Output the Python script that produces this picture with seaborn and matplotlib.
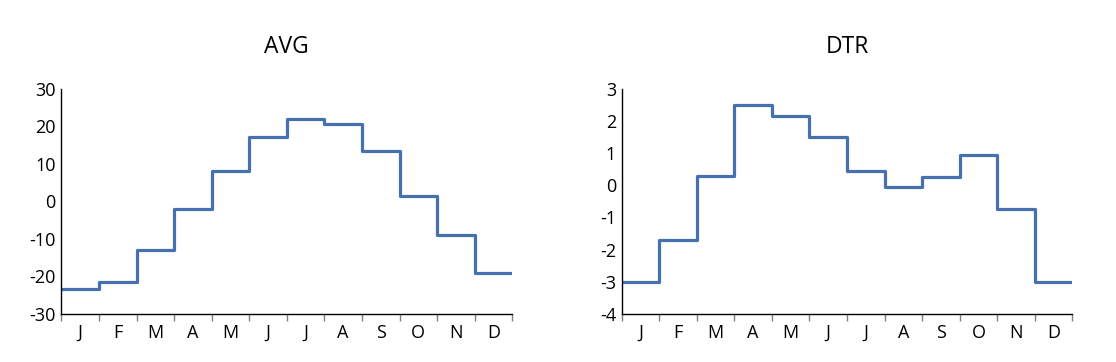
import matplotlib
matplotlib.use("Agg")
import matplotlib.pyplot as plt
import seaborn as sns
import numpy as np
import pandas as pd

months = ["J", "F", "M", "A", "M", "J", "J", "A", "S", "O", "N", "D"]
avg_values = [-23.5, -21.5, -13, -2, 8, 17, 22, 20.5, 13.5, 1.5, -9, -19]
dtr_values = [-3.0, -1.7, 0.3, 2.5, 2.15, 1.5, 0.45, -0.05, 0.25, 0.95, -0.75, -3.0]
titles = ["AVG", "DTR"]
avg_ticks = [-30, -20, -10, 0, 10, 20, 30]
dtr_ticks = [-4, -3, -2, -1, 0, 1, 2, 3]

sns.set_theme(style="white")
plt.rcParams['font.family'] = ['Open Sans', 'DejaVu Sans']
plt.rcParams['text.color'] = 'black'

fig = plt.figure(figsize=(11.16, 3.62), dpi=100)
ax1 = fig.add_axes([0.055, 0.133, 0.404, 0.622])
ax2 = fig.add_axes([0.557, 0.133, 0.404, 0.622])

color = "#4670AE"
for ax, vals, title, yt in [(ax1, avg_values, titles[0], avg_ticks),
                             (ax2, dtr_values, titles[1], dtr_ticks)]:
    df = pd.DataFrame({"x": np.arange(13), "y": list(vals) + [vals[-1]]})
    sns.lineplot(data=df, x="x", y="y", ax=ax, drawstyle="steps-post",
                 color=color, linewidth=2.3)
    ax.set_xlim(0, 12)
    ax.set_ylim(yt[0], yt[-1])
    ax.set_yticks(yt)
    ax.set_yticklabels([str(t) for t in yt])
    ax.set_xticks(np.arange(13))
    ax.set_xticklabels([""] * 13)
    ax.set_xticks(np.arange(12) + 0.5, minor=True)
    ax.set_xticklabels(months, minor=True)
    ax.tick_params(axis="x", which="major", direction="out", length=5, width=1.0,
                   color="#808080", bottom=True)
    ax.tick_params(axis="x", which="minor", length=0, pad=7, labelsize=13,
                   labelcolor="black")
    ax.tick_params(axis="y", length=0, pad=4, labelsize=13, labelcolor="black")
    ax.set_xlabel("")
    ax.set_ylabel("")
    for s in ["top", "right"]:
        ax.spines[s].set_visible(False)
    for s in ["left", "bottom"]:
        ax.spines[s].set_color("black")
        ax.spines[s].set_linewidth(1.0)
    ax.set_title(title, fontsize=16.5, pad=26, color="black")

fig.savefig("out.png", dpi=100)
